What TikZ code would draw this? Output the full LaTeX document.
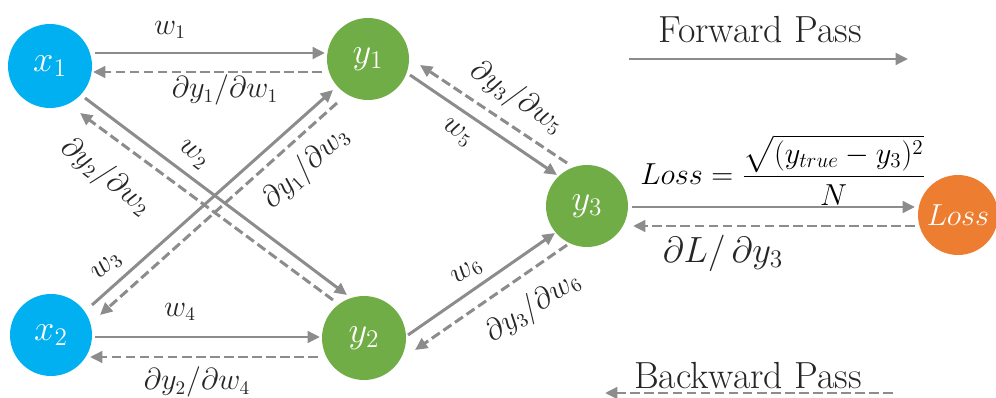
\documentclass[tikz,border=0pt]{standalone}
\usepackage{amsmath}
\usetikzlibrary{arrows.meta,calc}
\definecolor{cblue}{HTML}{00B0F0}
\definecolor{cgreen}{HTML}{70AD47}
\definecolor{corange}{HTML}{ED7D31}
\definecolor{cgray}{HTML}{8C8C8C}
\definecolor{ctext}{HTML}{262626}
\begin{document}
\begin{tikzpicture}[x=0.02cm,y=-0.02cm,
  neuron/.style={circle, inner sep=0pt, text=white, font=\fontsize{20}{24}\selectfont},
  fw/.style={draw=cgray, line width=1.7pt, -{Triangle[length=7pt,width=6.5pt]}},
  bw/.style={fw, dash pattern=on 5.5pt off 2.5pt},
  lbl/.style={text=ctext, font=\fontsize{16}{19}\selectfont, inner sep=1pt},
  title/.style={text=ctext, font=\fontsize{21.5}{25}\selectfont, inner sep=0pt}]
\useasboundingbox (0,0) rectangle (996,398);
% neurons
\node[neuron, fill=cblue, minimum size=1.68cm] (x1) at (50,66) {$x_1$};
\node[neuron, fill=cblue, minimum size=1.64cm] (x2) at (51,335) {$x_2$};
\node[neuron, fill=cgreen, minimum size=1.64cm] (y1) at (368,59) {$y_1$};
\node[neuron, fill=cgreen, minimum size=1.68cm] (y2) at (364,338) {$y_2$};
\node[neuron, fill=cgreen, minimum size=1.64cm] (y3) at (587,206) {$y_3$};
\node[neuron, fill=corange, minimum size=1.6cm, font=\fontsize{18}{22}\selectfont] (L) at (958,215) {$Loss$};
% x1 <-> y1
\draw[fw] ([shift={(45,-13)}]x1.center) -- ([shift={(-43,-6)}]y1.center);
\draw[bw] ([shift={(-46,13)}]y1.center) -- ([shift={(43,6)}]x1.center);
% x1 <-> y2
\draw[fw] ([shift={(35,32)}]x1.center) -- ([shift={(-17,-43)}]y2.center);
\draw[bw] ([shift={(-31,-38)}]y2.center) -- ([shift={(30,47)}]x1.center);
% x2 <-> y1
\draw[fw] ([shift={(41,-30)}]x2.center) -- ([shift={(-35,31)}]y1.center);
\draw[bw] ([shift={(-31,44)}]y1.center) -- ([shift={(49,-20)}]x2.center);
% x2 <-> y2
\draw[fw] ([shift={(44,2)}]x2.center) -- ([shift={(-44,-1)}]y2.center);
\draw[bw] ([shift={(-46,19)}]y2.center) -- ([shift={(39,22)}]x2.center);
% y1 <-> y3
\draw[fw] ([shift={(42,16)}]y1.center) -- ([shift={(-30,-31)}]y3.center);
\draw[bw] ([shift={(-20,-43)}]y3.center) -- ([shift={(52,6)}]y1.center);
% y2 <-> y3
\draw[fw] ([shift={(44,-3)}]y2.center) -- ([shift={(-32,27)}]y3.center);
\draw[bw] ([shift={(-20,39)}]y3.center) -- ([shift={(51,12)}]y2.center);
% y3 <-> Loss
\draw[fw] ([shift={(45,1)}]y3.center) -- ([shift={(-43,-8)}]L.center);
\draw[bw] ([shift={(-43,11)}]L.center) -- ([shift={(46,20)}]y3.center);
% labels
\node[lbl] (l1) at (170,30) {$w_1$};
\node[lbl] (l2) at (225,90) {$\partial y_1/\partial w_1$};
\node[lbl, rotate=-37] (l3) at (193,155) {$w_2$};
\node[lbl, rotate=-38] (l4) at (106,177) {$\partial y_2/\partial w_2$};
\node[lbl, rotate=42] (l5) at (107,267) {$w_3$};
\node[lbl, rotate=43] (l6) at (306,168) {$\partial y_1/\partial w_3$};
\node[lbl] (l7) at (180,312) {$w_4$};
\node[lbl] (l8) at (197,382) {$\partial y_2/\partial w_4$};
\node[lbl, rotate=-34] (l9) at (457,133) {$w_5$};
\node[lbl, rotate=-34] (l10) at (517,98) {$\partial y_3/\partial w_5$};
\node[lbl, rotate=33] (l11) at (467,272) {$w_6$};
\node[lbl, rotate=33] (l12) at (533,307) {$\partial y_3/\partial w_6$};
\node[lbl, text=black, font=\fontsize{16.5}{19}\selectfont] (f) at (783,170)
  {$Loss=\dfrac{\sqrt{(y_{true}-y_3)^2}}{N}$};
\node[lbl, font=\fontsize{20.5}{24}\selectfont] (dl) at (723,253) {$\partial L/\,\partial y_3$};
% legend
\node[title] (fp) at (760,30) {Forward Pass};
\coordinate (fa) at (629,59);
\coordinate (fb) at (908,59);
\draw[fw] (fa) -- (fb);
\node[title] (bp) at (748,376) {Backward Pass};
\coordinate (ba) at (893,393);
\coordinate (bb) at (605,393);
\draw[bw] (ba) -- (bb);
\end{tikzpicture}
\end{document}
